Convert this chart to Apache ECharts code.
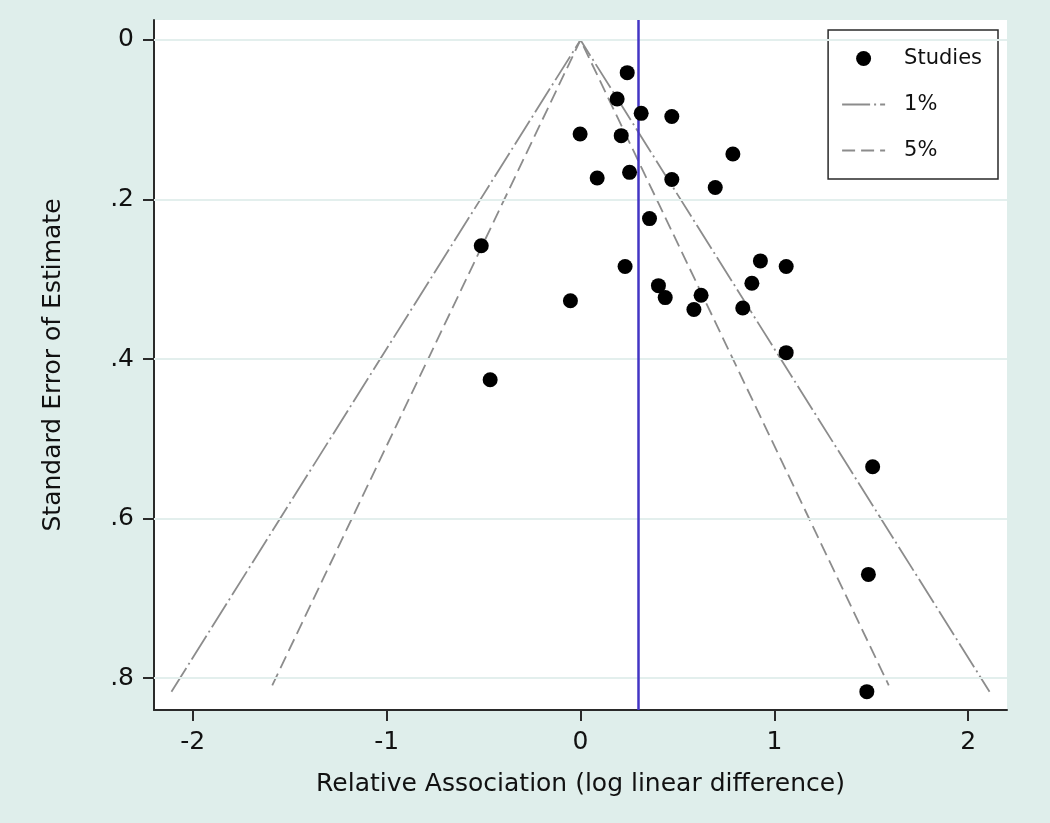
<!DOCTYPE html>
<html>
<head>
<meta charset="utf-8">
<script src="https://cdn.jsdelivr.net/npm/echarts@6/dist/echarts.min.js"></script>
<style>
html,body{margin:0;padding:0;background:#dfeeeb;}
#chart{width:1050px;height:823px;}
</style>
</head>
<body>
<div id="chart"></div>
<script>
// ---- data ----
const studyEffect = [0.241, 0.189, 0.313, 0.471, -0.002, 0.210, 0.786, 0.086, 0.253, 0.471, 0.695, 0.356, -0.512, 0.928, 1.061, 0.230, 0.402, 0.884, 0.437, 0.622, -0.052, 0.585, 0.837, 1.061, -0.466, 1.507, 1.485, 1.477];
const studySE     = [0.041, 0.074, 0.092, 0.096, 0.118, 0.120, 0.143, 0.173, 0.166, 0.175, 0.185, 0.224, 0.258, 0.277, 0.284, 0.284, 0.308, 0.305, 0.323, 0.320, 0.327, 0.338, 0.336, 0.392, 0.426, 0.535, 0.670, 0.817];
const funnel1X  = [-2.11, 0, 2.11];
const funnel1SE = [0.817, 0, 0.817];
const funnel5X  = [-1.59, 0, 1.59];
const funnel5SE = [0.809, 0, 0.809];
const pooledEffect = 0.297;
const xTickValues = [-2, -1, 0, 1, 2];
const xTickLabels = ['-2', '-1', '0', '1', '2'];
const yTickValues = [0, 0.2, 0.4, 0.6, 0.8];
const yTickLabels = ['0', '.2', '.4', '.6', '.8'];
const seriesNames = ['Studies', '1%', '5%'];

const pts = studyEffect.map((x, i) => [x, studySE[i]]);
const f1 = funnel1X.map((x, i) => [x, funnel1SE[i]]);
const f5 = funnel5X.map((x, i) => [x, funnel5SE[i]]);

const FONT = 'DejaVu Sans';
const chart = echarts.init(document.getElementById('chart'), null, {renderer: 'canvas'});
chart.setOption({
  backgroundColor: '#dfeeeb',
  animation: false,
  textStyle: {fontFamily: FONT},
  grid: {left: 154, right: 43, top: 20, bottom: 113, show: true, backgroundColor: '#ffffff', borderWidth: 0},
  legend: {
    orient: 'vertical',
    right: 52, top: 30,
    data: [
      {name: seriesNames[0]},
      {name: seriesNames[1], itemStyle: {opacity: 0}},
      {name: seriesNames[2], itemStyle: {opacity: 0}}
    ],
    backgroundColor: '#ffffff',
    borderColor: '#2a2a2a', borderWidth: 1.5,
    padding: [18, 16, 18, 13],
    itemWidth: 43, itemHeight: 15, itemGap: 25,
    textStyle: {fontFamily: FONT, fontSize: 21, color: '#111', padding: [0, 0, 0, 14]}
  },
  xAxis: {
    type: 'value', min: -2.2, max: 2.2,
    name: 'Relative Association (log linear difference)',
    nameLocation: 'middle', nameGap: 62,
    nameTextStyle: {fontFamily: FONT, fontSize: 25, color: '#111'},
    axisLine: {show: true, onZero: false, lineStyle: {color: '#2a2a2a', width: 2}},
    axisTick: {show: true, length: 11, lineStyle: {color: '#2a2a2a', width: 2}, customValues: xTickValues},
    axisLabel: {customValues: xTickValues, margin: 20, fontFamily: FONT, fontSize: 25, color: '#111',
      formatter: v => { const i = xTickValues.indexOf(v); return i >= 0 ? xTickLabels[i] : ''; }},
    splitLine: {show: false}
  },
  yAxis: {
    type: 'value', inverse: true, min: -0.025, max: 0.84,
    name: 'Standard Error of Estimate',
    nameLocation: 'middle', nameGap: 88,
    nameTextStyle: {fontFamily: FONT, fontSize: 25, color: '#111'},
    axisLine: {show: true, onZero: false, lineStyle: {color: '#2a2a2a', width: 2}},
    axisTick: {show: true, length: 11, lineStyle: {color: '#2a2a2a', width: 2}, customValues: yTickValues},
    axisLabel: {customValues: yTickValues, margin: 20, fontFamily: FONT, fontSize: 25, color: '#111',
      formatter: v => { const i = yTickValues.findIndex(t => Math.abs(t - v) < 1e-9); return i >= 0 ? yTickLabels[i] : ''; }},
    splitLine: {show: false}
  },
  series: [
    {
      name: 'grid', type: 'line', data: [], z: 1, silent: true,
      markLine: {
        silent: true, symbol: 'none', animation: false,
        label: {show: false},
        lineStyle: {color: '#e3efed', width: 2, type: 'solid'},
        data: yTickValues.map(v => ({yAxis: v}))
      }
    },
    {
      name: seriesNames[1], type: 'line', data: f1, symbol: 'none', z: 2,
      lineStyle: {color: '#8c8c8c', width: 1.8, type: [28, 4, 2, 4]},
      itemStyle: {color: '#8c8c8c'}
    },
    {
      name: seriesNames[2], type: 'line', data: f5, symbol: 'none', z: 2,
      lineStyle: {color: '#8c8c8c', width: 1.8, type: [13, 6]},
      itemStyle: {color: '#8c8c8c'}
    },
    {
      name: 'pooled', type: 'line', data: [], z: 3, silent: true,
      markLine: {
        silent: true, symbol: 'none', animation: false,
        label: {show: false},
        lineStyle: {color: '#4335c4', width: 2.5, type: 'solid'},
        data: [{xAxis: pooledEffect}]
      }
    },
    {
      name: seriesNames[0], type: 'scatter', data: pts, z: 5,
      symbol: 'circle', symbolSize: 15,
      itemStyle: {color: '#000000', opacity: 1}
    }
  ]
});
</script>
</body>
</html>
